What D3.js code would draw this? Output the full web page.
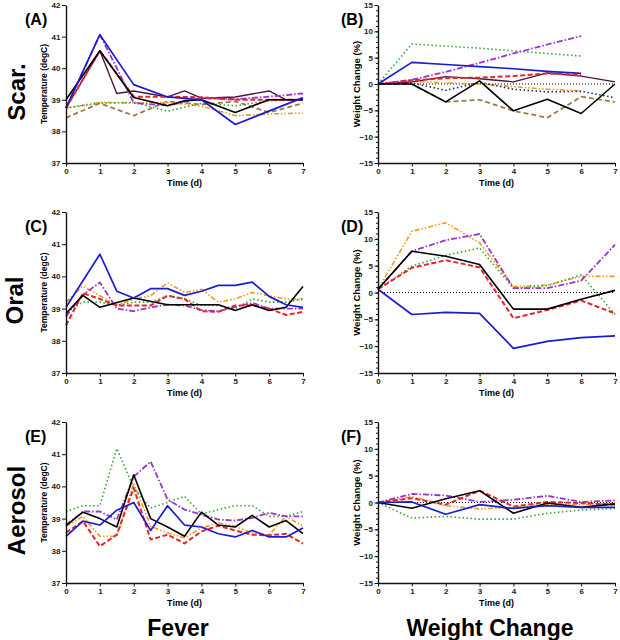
<!DOCTYPE html>
<html>
<head>
<meta charset="utf-8">
<script src="https://cdn.jsdelivr.net/npm/d3@7"></script>
<style>
  body { margin: 0; background: #fff; }
  svg { display: block; font-family: "Liberation Sans", Arial, sans-serif; }
  .tick text { font-size: 8px; font-weight: bold; fill: #222; }
  .domain, .tick line { stroke: #111; }
</style>
</head>
<body>
<svg id="chart"></svg>
<script>
// time grids
const days = [0, 1, 2, 3, 4, 5, 6, 7];
const halfDays = [0, 0.5, 1, 1.5, 2, 2.5, 3, 3.5, 4, 4.5, 5, 5.5, 6, 6.5, 7];

const tempTicks = [37, 38, 39, 40, 41, 42];
const weightTicks = [-15, -10, -5, 0, 5, 10, 15];
const dayTicks = [0, 1, 2, 3, 4, 5, 6, 7];

const rowLabels = ["Scar.", "Oral", "Aerosol"];
const panelLabels = ["(A)", "(B)", "(C)", "(D)", "(E)", "(F)"];
const colLabels = ["Fever", "Weight Change"];

// (A) Scar. temperature, on halfDays
const aBrown  = [38.43, null, 38.89, null, 38.5, null, 38.95, null, 38.85, null, 38.95, null, 38.6, null, 38.89];
const aOrange = [38.74, null, 38.92, null, 38.9, null, 38.92, null, 38.8, null, 38.5, null, 38.55, null, 38.58];
const aGreen  = [38.74, null, 38.89, null, 38.92, null, 38.64, null, 38.89, null, 38.81, null, 38.97, null, 39.0];
const aMaroon = [38.74, null, 40.55, 39.2, 39.28, null, 39.09, 39.28, 39.05, null, 39.09, null, 39.28, 39.0, 39.0];
const aPurple = [38.74, null, 41.06, 40.0, 38.9, null, 38.82, null, 39.05, null, 39.02, null, 39.1, null, 39.2];
const aRed    = [38.74, null, 40.55, null, 39.1, null, 39.1, null, 39.08, null, 39.0, null, 39.0, null, 39.0];
const aBlack  = [39.0, null, 40.55, null, 39.07, null, 38.81, 38.97, 39.0, null, 38.6, null, 39.0, null, 39.0];
const aBlue   = [38.74, null, 41.06, null, 39.48, null, 39.09, null, 39.0, null, 38.22, null, null, null, 39.07];

// (B) Scar. weight change, on days
const bBrown  = [0, 0, -3.4, -3.0, -5.1, -6.4, -2.4, -3.4];
const bOrange = [0, 0.5, 0.2, 0, -0.5, -1.0, -1.3, null];
const bGreen  = [0, 7.6, 7.2, 6.8, 6.3, 5.8, 5.3, null];
const bNavy   = [0, 0.2, -1.2, 0.3, -1.0, -1.5, -1.4, -2.6];
const bMaroon = [0, 0.4, 1.4, 1.0, 0.4, 2.1, 1.5, 0.4];
const bPurple = [0, 0.8, 2.3, 4.0, 5.8, 7.5, 9.1, null];
const bRed    = [0, 0.7, 1.1, 1.2, 1.5, 2.0, 1.7, null];
const bBlack  = [0, 0, -3.4, 0.6, -5.1, -2.9, -5.6, 0];
const bBlue   = [0, 4.1, 3.7, 3.3, 2.9, 2.4, 2.0, null];

// (C) Oral temperature, on halfDays
const cOrange = [39.2, 39.7, 39.4, 39.1, 39.3, 39.4, 39.8, 39.5, 39.6, 39.2, 39.3, 39.5, 39.4, 39.3, 39.3];
const cGreen  = [38.9, 39.2, 39.2, 39.1, 39.2, 39.2, 39.4, 39.3, 39.1, 39.1, 39.0, 39.3, 39.2, 39.2, 39.3];
const cPurple = [38.76, 39.43, 39.81, 39.0, 38.92, 39.04, 39.12, 39.1, 38.95, 38.92, 39.05, 39.18, 39.0, 39.0, 39.0];
const cRed    = [38.48, 39.48, 39.3, 39.1, 39.1, 39.1, 39.4, 39.3, 38.92, 38.9, 39.1, 39.1, 39.0, 38.8, 38.9];
const cBlack  = [38.85, 39.41, 39.04, null, 39.33, null, 39.12, null, 39.12, 39.12, 38.94, 39.12, 38.94, 39.04, 39.69];
const cBlue   = [39.04, null, 40.69, 39.54, 39.33, 39.62, 39.62, 39.41, 39.54, 39.72, 39.72, 39.82, 39.38, 39.12, 39.04];

// (D) Oral weight change, on days
const dOrange = [0.6, 11.4, 13.0, 9.25, 1.1, 1.4, 3.0, 3.0];
const dGreen  = [0.6, 4.9, 6.9, 8.3, 0.8, 1.25, 3.3, -4.1];
const dPurple = [0.6, 7.7, 9.75, 10.9, 0.8, 0.8, 2.2, 8.9];
const dRed    = [0.6, 4.6, 6.0, 4.7, -4.8, -3.25, -1.5, -3.9];
const dBlack  = [0.6, 7.7, 6.75, 5.2, -3.1, -3.1, -1.25, 0.4];
const dBlue   = [0.6, -4.1, -3.7, -3.9, -10.4, -9.1, -8.4, -8.1];

// (E) Aerosol temperature, on halfDays
const eOrange = [38.76, 39.07, 38.45, 38.45, 40.1, 38.76, 38.56, 38.4, 38.71, 38.87, 38.76, 38.56, 38.5, 39.07, 38.76];
const eGreen  = [39.22, 39.4, 39.4, 41.18, 39.95, 39.33, 39.5, 39.69, 39.14, 39.28, 39.4, 39.4, 39.07, 39.07, 39.22];
const ePurple = [38.8, 39.22, 39.22, 38.97, 40.3, 40.77, 39.59, 39.28, 39.12, 38.97, 38.94, 39.02, 39.18, 39.07, 39.07];
const eRed    = [38.56, 38.92, 38.14, 38.5, 39.95, 38.35, 38.5, 38.23, 38.6, 38.78, 38.63, 38.5, 38.48, 38.53, 38.22];
const eBlack  = [38.78, 39.2, 39.0, 38.74, 40.36, 39.0, 38.74, 38.45, 39.2, 38.8, 38.74, 39.1, 38.74, 38.94, 38.53];
const eBlue   = [38.45, 38.92, 38.8, 39.26, 39.5, 38.63, 39.4, 38.8, 38.74, 38.53, 38.43, 38.63, 38.43, 38.43, 38.71];

// (F) Aerosol weight change, on days
const fOrange = [0, 1.1, -0.6, -1.2, -0.9, -0.3, -0.4, -0.1];
const fGreen  = [0, -2.9, -2.6, -3.1, -3.1, -2.0, -1.4, -1.1];
const fPurple = [0, 1.6, 1.3, 0.1, 0.5, 1.25, 0.1, 0.4];
const fRed    = [0, 0.8, -0.4, 2.2, -0.75, 0.1, -0.1, -0.4];
const fBlack  = [0, -1.06, 0.7, 2.2, -2.0, -0.1, -0.9, -0.25];
const fBlue   = [0, 0.1, -2.2, -0.4, -1.1, -0.6, -0.9, -0.9];

// line looks, kept apart from the numbers
const styles = {
  brown:  { color: "#9b7b4e", width: 1.8, dash: "5,3" },
  orange: { color: "#f39a1e", width: 1.6, dash: "5,2,1.5,2,1.5,2" },
  green:  { color: "#34a534", width: 1.6, dash: "1.5,2.5" },
  navy:   { color: "#1b2a80", width: 1.6, dash: "1.5,2.5" },
  maroon: { color: "#4c1642", width: 1.4, dash: null },
  purple: { color: "#9b34cc", width: 1.8, dash: "6,2,1.5,2" },
  red:    { color: "#e3262b", width: 2, dash: "5,2.5" },
  black:  { color: "#000000", width: 1.6, dash: null },
  blue:   { color: "#1c1cd0", width: 1.7, dash: null }
};

const panels = [
  { label: panelLabels[0], row: 0, col: 0, kind: "temp", x: halfDays,
    series: [["brown", aBrown], ["orange", aOrange], ["green", aGreen], ["maroon", aMaroon],
             ["purple", aPurple], ["red", aRed], ["black", aBlack], ["blue", aBlue]] },
  { label: panelLabels[1], row: 0, col: 1, kind: "weight", x: days,
    series: [["brown", bBrown], ["orange", bOrange], ["green", bGreen], ["navy", bNavy], ["maroon", bMaroon],
             ["purple", bPurple], ["red", bRed], ["black", bBlack], ["blue", bBlue]] },
  { label: panelLabels[2], row: 1, col: 0, kind: "temp", x: halfDays,
    series: [["orange", cOrange], ["green", cGreen], ["purple", cPurple], ["red", cRed],
             ["black", cBlack], ["blue", cBlue]] },
  { label: panelLabels[3], row: 1, col: 1, kind: "weight", x: days,
    series: [["orange", dOrange], ["green", dGreen], ["purple", dPurple], ["red", dRed],
             ["black", dBlack], ["blue", dBlue]] },
  { label: panelLabels[4], row: 2, col: 0, kind: "temp", x: halfDays,
    series: [["orange", eOrange], ["green", eGreen], ["purple", ePurple], ["red", eRed],
             ["black", eBlack], ["blue", eBlue]] },
  { label: panelLabels[5], row: 2, col: 1, kind: "weight", x: days,
    series: [["orange", fOrange], ["green", fGreen], ["purple", fPurple], ["red", fRed],
             ["black", fBlack], ["blue", fBlue]] }
];

// layout
const width = 620;
const height = 640;
const cols = [[66, 303], [378, 615]];
const rows = [[5, 163], [212, 373], [422, 583]];

const svg = d3.select("#chart").attr("width", width).attr("height", height);

const drawPanel = (p) => {
  const [x0, x1] = cols[p.col];
  const [y0, y1] = rows[p.row];
  const isTemp = p.kind === "temp";

  const xScale = d3.scaleLinear().domain([0, 7]).range([x0, x1]);
  const yScale = d3.scaleLinear()
    .domain(isTemp ? [37, 42] : [-15, 15])
    .range([y1, y0]);

  const g = svg.append("g");

  // zero reference line on the weight panels
  if (!isTemp) {
    g.append("line")
      .attr("x1", xScale(0)).attr("x2", xScale(7))
      .attr("y1", yScale(0)).attr("y2", yScale(0))
      .attr("stroke", "#000").attr("stroke-width", 1)
      .attr("stroke-dasharray", "1,2");
  }

  const line = d3.line()
    .x((d) => xScale(d[0]))
    .y((d) => yScale(d[1]));

  p.series.forEach(([key, vals]) => {
    const st = styles[key];
    const pts = vals.map((v, i) => [p.x[i], v]).filter((d) => d[1] !== null);
    g.append("path")
      .datum(pts)
      .attr("d", line)
      .attr("fill", "none")
      .attr("stroke", st.color)
      .attr("stroke-width", st.width)
      .attr("stroke-dasharray", st.dash)
      .attr("stroke-linejoin", "round");
  });

  // minor ticks on the weight axis
  if (!isTemp) {
    g.append("g")
      .attr("transform", "translate(" + x0 + ",0)")
      .call(d3.axisLeft(yScale).tickValues(d3.range(-15, 16)).tickSize(2).tickFormat(""))
      .call((a) => a.select(".domain").remove());
  }

  g.append("g")
    .attr("transform", "translate(" + x0 + ",0)")
    .call(d3.axisLeft(yScale).tickValues(isTemp ? tempTicks : weightTicks)
      .tickFormat(d3.format("d"))
      .tickSize(isTemp ? 4 : 3.5).tickPadding(1.5).tickSizeOuter(0))
    .call((a) => a.select(".domain").attr("stroke-width", 1.4));

  g.append("g")
    .attr("transform", "translate(0," + y1 + ")")
    .call(d3.axisBottom(xScale).tickValues(dayTicks).tickFormat(d3.format("d"))
      .tickSize(3.5).tickPadding(2).tickSizeOuter(0))
    .call((a) => a.select(".domain").attr("stroke-width", 1.4));

  // axis titles
  g.append("text")
    .attr("x", (x0 + x1) / 2).attr("y", y1 + 23)
    .attr("text-anchor", "middle")
    .style("font-size", "9px").style("font-weight", "bold")
    .text("Time (d)");

  g.append("text")
    .attr("transform", "translate(" + (x0 - (isTemp ? 19 : 18)) + "," + ((y0 + y1) / 2) + ") rotate(-90)")
    .attr("text-anchor", "middle")
    .style("font-size", isTemp ? "8.5px" : "9.5px").style("font-weight", "bold")
    .text(isTemp ? "Temperature (degC)" : "Weight Change (%)");

  // panel letter
  g.append("text")
    .attr("x", x0 - (isTemp ? 41 : 37)).attr("y", y0 + 20)
    .style("font-size", "16px").style("font-weight", "bold")
    .text(p.label);
};

panels.forEach(drawPanel);

// row names on the left
const rowX = [25, 23, 25];
rowLabels.forEach((t, i) => {
  svg.append("text")
    .attr("transform", "translate(" + rowX[i] + "," + ((rows[i][0] + rows[i][1]) / 2 + 8) + ") rotate(-90)")
    .attr("text-anchor", "middle")
    .style("font-size", "24px").style("font-weight", "bold")
    .text(t);
});

// column names at the bottom
colLabels.forEach((t, i) => {
  svg.append("text")
    .attr("x", i === 0 ? 178 : 490).attr("y", 636)
    .attr("text-anchor", "middle")
    .style("font-size", "23px").style("font-weight", "bold")
    .text(t);
});
</script>
</body>
</html>
